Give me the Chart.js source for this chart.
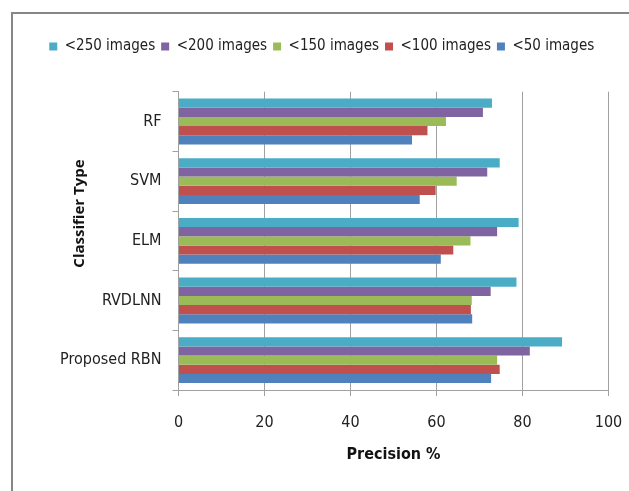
<!DOCTYPE html>
<html><head><meta charset="utf-8">
<script src="https://cdn.jsdelivr.net/npm/chart.js@4/dist/chart.umd.min.js"></script>
<style>html,body{margin:0;padding:0;background:#fff;}#wrap{width:629px;height:491px;}</style>
</head><body><div id="wrap"><canvas id="c" width="629" height="491"></canvas></div>
<script>
const categories = ["RF", "SVM", "ELM", "RVDLNN", "Proposed RBN"];
const seriesNames = ["<250 images", "<200 images", "<150 images", "<100 images", "<50 images"];
const s250 = [72.9, 74.7, 79.1, 78.6, 89.2];
const s200 = [70.8, 71.8, 74.1, 72.6, 81.7];
const s150 = [62.2, 64.7, 67.9, 68.2, 74.1];
const s100 = [57.9, 59.8, 63.9, 68.0, 74.7];
const s50  = [54.3, 56.1, 61.0, 68.3, 72.7];
const xTicks = [0, 20, 40, 60, 80, 100];
const colors = ["#4BACC6", "#8064A2", "#9BBB59", "#C0504D", "#4F81BD"];
const seriesValues = [s250, s200, s150, s100, s50];

const NARROW = '"Liberation Sans Narrow", "DejaVu Sans Condensed", sans-serif';
const PAD_L = 35;

const frame = {
  id: 'frame',
  beforeLayout(chart) {
    const lg = chart.legend;
    if (lg && !lg._patched) {
      const origFit = lg.fit;
      lg.fit = function () { origFit.call(this); this.height = 58.7; };
      lg._patched = true;
    }
  },
  beforeDraw(chart) {
    const ctx = chart.ctx;
    ctx.save();
    ctx.strokeStyle = '#868686';
    ctx.lineWidth = 2;
    ctx.beginPath();
    ctx.moveTo(12, 700);
    ctx.lineTo(12, 13);
    ctx.lineTo(700, 13);
    ctx.stroke();
    ctx.restore();
  }
};

new Chart(document.getElementById('c'), {
  type: 'bar',
  data: {
    labels: categories,
    datasets: seriesNames.map((n, i) => ({
      label: n,
      data: seriesValues[i],
      backgroundColor: colors[i],
      borderWidth: 0,
      categoryPercentage: 0.768,
      barPercentage: 1.0
    }))
  },
  options: {
    indexAxis: 'y',
    responsive: false,
    animation: false,
    layout: { padding: { left: PAD_L, top: 33, right: 20.5, bottom: 0 } },
    plugins: {
      legend: {
        position: 'top',
        labels: {
          boxWidth: 8, boxHeight: 8, padding: 6,
          color: '#222', font: { family: NARROW, size: 15 }
        }
      },
      tooltip: { enabled: false }
    },
    scales: {
      x: {
        min: 0, max: 100,
        afterFit(s) { s.height = 101; s.paddingLeft = 0; s.paddingRight = 0; },
        afterBuildTicks(s) { s.ticks = xTicks.map(v => ({ value: v })); },
        ticks: { color: '#222', font: { family: NARROW, size: 16 }, padding: 17, maxRotation: 0 },
        grid: { color: '#A0A0A0', lineWidth: 1, tickLength: 6, drawTicks: true },
        border: { color: '#A0A0A0' },
        title: {
          display: true, text: 'Precision %', color: '#111',
          font: { family: NARROW, size: 16, weight: 'bold' },
          padding: { top: 0, bottom: 27 }
        }
      },
      y: {
        afterFit(s) { s.width = 178.5 - PAD_L; s.paddingTop = 0; s.paddingBottom = 0; },
        ticks: { color: '#222', font: { family: NARROW, size: 16 }, padding: 11 },
        grid: { drawOnChartArea: false, color: '#A0A0A0', tickLength: 6 },
        border: { color: '#A0A0A0' },
        title: {
          display: true, text: '              Classifier Type', color: '#111',
          font: { family: '"Open Sans", sans-serif', size: 15, weight: 'bold' },
          padding: { top: 80 - PAD_L - 9, bottom: 0 }
        }
      }
    }
  },
  plugins: [frame]
});
</script>
</body></html>
